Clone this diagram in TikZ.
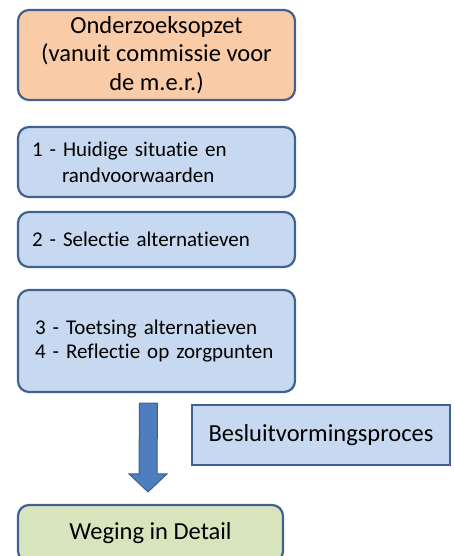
\documentclass[tikz,border=0pt]{standalone}
\usepackage{fontspec}
\setmainfont{Carlito}[Ligatures={NoCommon,NoRequired}]
\usepackage{tikz}
\usetikzlibrary{calc}
\definecolor{boxborder}{HTML}{41628F}
\definecolor{orangefill}{HTML}{F9CBA7}
\definecolor{bluefill}{HTML}{C7D9F0}
\definecolor{greenfill}{HTML}{D8E4BC}
\definecolor{arrowfill}{HTML}{4F7EC0}
\definecolor{arrowborder}{HTML}{3A5F93}
\pgfmathsetmacro{\boxwidth}{277}
\pgfmathsetmacro{\boxround}{11}

\begin{document}
\begin{tikzpicture}[x=1pt, y=-1pt,
    step_box/.style={draw=boxborder, line width=2.2pt, rounded corners=\boxround pt,
        minimum width=\boxwidth pt, inner ysep=0pt, text=black},
    big_text/.style={font=\fontsize{24.5}{28.5}\selectfont},
    list_text/.style={font=\fontsize{21}{24}\selectfont,
        align=left, text width=249pt, inner xsep=14pt}]
    \useasboundingbox (0,0) rectangle (454,556);
    \clip (0,0) rectangle (454,556);
    % define boxes
    % opzet
    \node[step_box, big_text, fill=orangefill, minimum height=90pt, align=center]
        (opzet) at (156.5,55) {Onderzoeksopzet\\(vanuit commissie voor\\de m.e.r.)};
    % stappen
    \node[step_box, list_text, fill=bluefill, minimum height=70pt] (stap_een)
        at (156.5,162) {1 - Huidige situatie en\\[2pt]\hspace*{30pt}randvoorwaarden};
    \node[step_box, list_text, fill=bluefill, minimum height=55pt] (stap_twee)
        at (156.5,239.5) {2 - Selectie alternatieven};
    \node[step_box, list_text, fill=bluefill, minimum height=102pt] (stap_drie)
        at (156.5,341) {\hspace*{3pt}3 - Toetsing alternatieven\\
        \hspace*{3pt}4 - Reflectie op zorgpunten};
    % besluitvorming
    \node[step_box, big_text, fill=bluefill, rounded corners=0pt, minimum width=258pt,
        minimum height=60pt] (besluit) at (321,435) {Besluitvormingsproces};
    % weging
    \node[step_box, big_text, fill=greenfill, minimum width=265pt, minimum height=57pt]
        (weging) at (150.5,533.5) {Weging in Detail};
    % draw arrow
    \coordinate (arrow_top) at ($(stap_drie.south)+(-8,10)$);
    \coordinate (arrow_tip) at ($(weging.north)+(-2.5,-12)$);
    \coordinate (arrow_neck) at ($(arrow_tip)+(0,-18)$);
    \draw[fill=arrowfill, draw=arrowborder, line width=1pt, line join=miter]
        ($(arrow_top)+(-9,0)$) -- ($(arrow_top)+(9,0)$)
        -- ($(arrow_neck)+(9,0)$) -- ($(arrow_neck)+(19,0)$)
        -- (arrow_tip)
        -- ($(arrow_neck)+(-19,0)$) -- ($(arrow_neck)+(-9,0)$) -- cycle;
\end{tikzpicture}
\end{document}
